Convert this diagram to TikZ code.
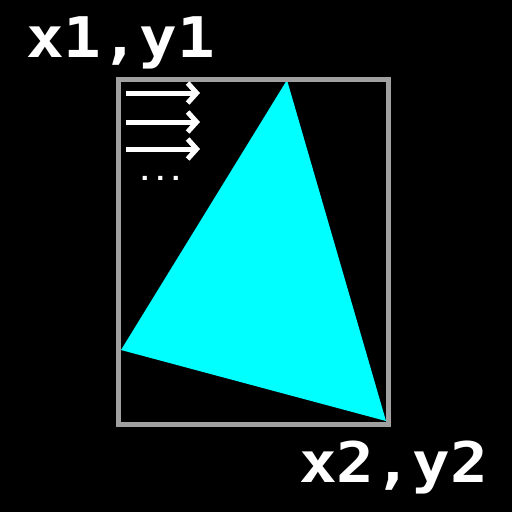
\documentclass[tikz,border=0pt]{standalone}
\usepackage{fontspec}
\newfontfamily\pixfont[FakeStretch=1.12]{DejaVu Sans Mono}
\definecolor{frame}{RGB}{160,160,160}
\definecolor{tricyan}{RGB}{0,255,255}
\usetikzlibrary{arrows.meta}
\tikzset{
  bbox/.style={draw=frame,line width=5pt},
  tri/.style={fill=tricyan},
  scan/.style={-{Straight Barb[length=9pt,width=20pt]},draw=white,line width=5pt},
  lbl/.style={text=white,inner sep=0pt,font=\pixfont\bfseries\fontsize{56}{60}\selectfont},
  dots/.style={text=white,inner sep=0pt,font=\pixfont\bfseries\fontsize{23}{24}\selectfont},
}

\begin{document}
\begin{tikzpicture}[x=1pt,y=-1pt]
    \fill[black] (0,0) rectangle (512,512);
    \useasboundingbox (0,0) rectangle (512,512);
    % triangle corners
    \coordinate (p1) at (287,80);
    \coordinate (p2) at (121,350);
    \coordinate (p3) at (386,421);
    \fill[tri] (p1) -- (p2) -- (p3) -- cycle;
    % bounding box
    \coordinate (tl) at (118.5,79.5);
    \coordinate (br) at (388.5,424.5);
    \draw[bbox] (tl) rectangle (br);
    % scanlines
    \foreach \y in {93,122,149}
      \draw[scan] (126,\y) -- (200,\y);
    \node[dots,anchor=base west] (more) at (137,180) {...};
    \node[lbl,anchor=base west] (c1) at (26,57) {x1,y1};
    \node[lbl,anchor=base west] (c2) at (299,482) {x2,y2};
  \end{tikzpicture}
\end{document}
